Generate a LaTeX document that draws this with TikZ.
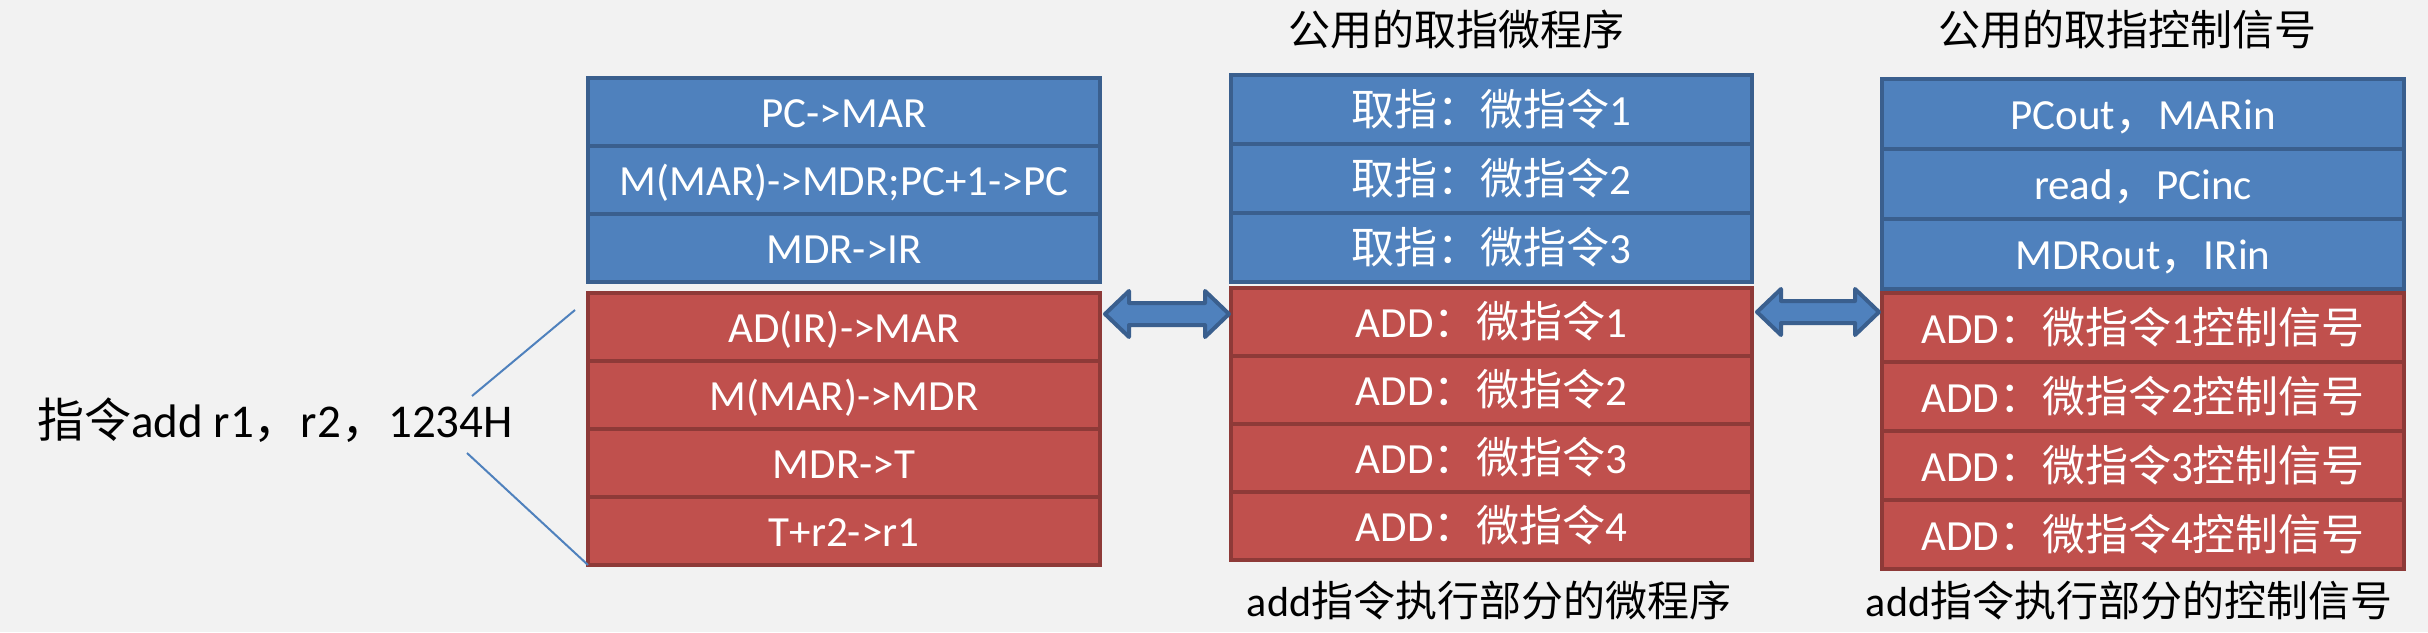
\documentclass[tikz,border=0pt]{standalone}
\usepackage{fontspec}
\setmainfont{Carlito}
\newfontfamily\cjk{Noto Sans CJK SC}
\usepackage{tikz}
\usetikzlibrary{calc}

\definecolor{fetchfill}{HTML}{4F81BD}
\definecolor{fetchline}{HTML}{3A5F8E}
\definecolor{execfill}{HTML}{C0504D}
\definecolor{execline}{HTML}{8E3A38}
\definecolor{pagebg}{HTML}{F2F2F2}

\newcommand{\zh}[1]{{\cjk #1}}
% two-headed block arrow between left tip #1 and right tip #2
\newcommand{\linkarrow}[2]{%
  \draw [dblarrow] (#1) -- ++(24,-23) -- ++(0,12) -- ($(#2)+(-24,-11)$) -- ++(0,-12)
    -- (#2) -- ++(-24,23) -- ++(0,-12) -- ($(#1)+(24,11)$) -- ++(0,12) -- cycle;}

\tikzset{
  rowbox/.style={draw, line width=1.8pt, inner sep=0pt, outer sep=0pt, text=white,
    font=\fontsize{21.5}{26}\selectfont, text height=17.5pt, text depth=2pt},
  fetchcell/.style={rowbox, fill=fetchfill, draw=fetchline},
  execcell/.style={rowbox, fill=execfill, draw=execline},
  headtext/.style={anchor=base, inner sep=0pt, font=\fontsize{21}{25}\selectfont},
  linkline/.style={draw=fetchfill, line width=1pt},
  dblarrow/.style={fill=fetchfill, draw=fetchline, line width=2pt, line join=round},
}

\begin{document}
\begin{tikzpicture}[x=0.5pt, y=-0.5pt]
          \fill [pagebg] (0,0) rectangle (2428,632); % page
          \useasboundingbox (0,0) rectangle (2428,632);

          \node [headtext, font=\fontsize{23.5}{28}\selectfont] (instr) at (275,437) {\zh{指令}add r1\zh{，}r2\zh{，}1234H};

          % micro-operations
          \node [fetchcell, minimum width=256pt, minimum height=34pt] (op1) at (844,112) {PC->MAR};
          \node [fetchcell, minimum width=256pt, minimum height=34pt] (op2) at (844,180) {M(MAR)->MDR;PC+1->PC};
          \node [fetchcell, minimum width=256pt, minimum height=34pt] (op3) at (844,248) {MDR->IR};
          \node [execcell, minimum width=256pt, minimum height=34pt] (op4) at (844,327) {AD(IR)->MAR};
          \node [execcell, minimum width=256pt, minimum height=34pt] (op5) at (844,395) {M(MAR)->MDR};
          \node [execcell, minimum width=256pt, minimum height=34pt] (op6) at (844,463) {MDR->T};
          \node [execcell, minimum width=256pt, minimum height=34pt] (op7) at (844,531) {T+r2->r1};

          % micro-program
          \node [headtext] (mtitle) at (1456,45) {\zh{公用的取指微程序}};
          \node [fetchcell, minimum width=260.5pt, minimum height=34.5pt] (mi1) at (1491.5,109.5) {\zh{取指：微指令}1};
          \node [fetchcell, minimum width=260.5pt, minimum height=34.5pt] (mi2) at (1491.5,178.5) {\zh{取指：微指令}2};
          \node [fetchcell, minimum width=260.5pt, minimum height=34.5pt] (mi3) at (1491.5,247.5) {\zh{取指：微指令}3};
          \node [execcell, minimum width=260.5pt, minimum height=34pt] (mi4) at (1491.5,322) {ADD\zh{：微指令}1};
          \node [execcell, minimum width=260.5pt, minimum height=34pt] (mi5) at (1491.5,390) {ADD\zh{：微指令}2};
          \node [execcell, minimum width=260.5pt, minimum height=34pt] (mi6) at (1491.5,458) {ADD\zh{：微指令}3};
          \node [execcell, minimum width=260.5pt, minimum height=34pt] (mi7) at (1491.5,526) {ADD\zh{：微指令}4};
          \node [headtext] (mnote) at (1489,616) {add\zh{指令执行部分的微程序}};

          % control signals
          \node [headtext] (stitle) at (2127,45) {\zh{公用的取指控制信号}};
          \node [fetchcell, minimum width=261pt, minimum height=35pt] (sg1) at (2143,114) {PCout\zh{，}MARin};
          \node [fetchcell, minimum width=261pt, minimum height=35pt] (sg2) at (2143,184) {read\zh{，}PCinc};
          \node [fetchcell, minimum width=261pt, minimum height=35pt] (sg3) at (2143,254) {MDRout\zh{，}IRin};
          \node [execcell, minimum width=261pt, minimum height=34.5pt] (sg4) at (2143,327.5) {ADD\zh{：微指令}1\zh{控制信号}};
          \node [execcell, minimum width=261pt, minimum height=34.5pt] (sg5) at (2143,396.5) {ADD\zh{：微指令}2\zh{控制信号}};
          \node [execcell, minimum width=261pt, minimum height=34.5pt] (sg6) at (2143,465.5) {ADD\zh{：微指令}3\zh{控制信号}};
          \node [execcell, minimum width=261pt, minimum height=34.5pt] (sg7) at (2143,534.5) {ADD\zh{：微指令}4\zh{控制信号}};
          \node [headtext] (snote) at (2129,616) {add\zh{指令执行部分的控制信号}};

          % instruction to its micro-operations
          \coordinate (upstart) at (472,396);
          \coordinate (lostart) at (467,453);
          \draw [linkline] (upstart) -- ($(op4.north west)+(-13,17)$);
          \draw [linkline] (lostart) -- (op7.south west);

          \coordinate (aL) at ($(op4.east)+(5,-13)$);
          \coordinate (aR) at ($(mi4.west |- aL)+(-2,0)$);
          \linkarrow{aL}{aR}
          \coordinate (bL) at ($(mi4.east)+(5,-10)$);
          \coordinate (bR) at ($(sg4.west |- bL)+(-3,0)$);
          \linkarrow{bL}{bR}
        \end{tikzpicture}
\end{document}
